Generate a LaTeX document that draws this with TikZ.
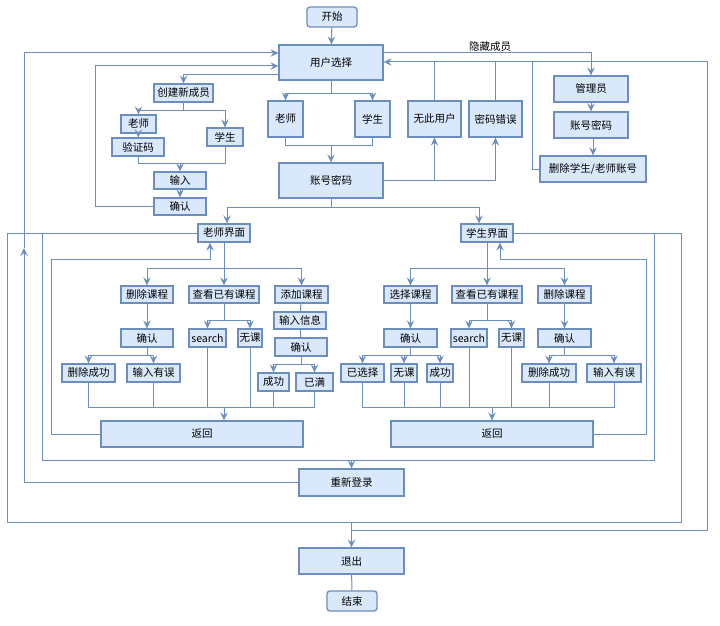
\documentclass[tikz,border=0pt]{standalone}
\usepackage{fontspec}
\setmainfont{Noto Sans CJK SC}
\usetikzlibrary{arrows.meta}
\definecolor{boxfill}{HTML}{DAE8FC}
\definecolor{boxline}{HTML}{6C8EBF}

\begin{document}
\begin{tikzpicture}[x=1pt,y=-1pt,
  sz/.style 2 args={minimum width=#1pt,minimum height=#2pt},
  box/.style={draw=boxline,fill=boxfill,line width=1.3pt,inner sep=0pt,font=\fontsize{10.5}{12}\selectfont},
  endbox/.style={box,rounded corners=3pt},
  lbl/.style={inner sep=0pt,font=\fontsize{10.5}{12}\selectfont},
  line/.style={draw=boxline,line width=1pt},
  arr/.style={line,-{Stealth[length=8pt,width=7.5pt,inset=3pt]}}]
\fill[white] (0,0) rectangle (720,626);
\useasboundingbox (0,0) rectangle (720,626);

\node[endbox,sz={50}{20}] (start) at (332,17) {开始};
\node[box,sz={104}{35}] (sel) at (331,62.5) {用户选择};
\node[box,sz={59}{18}] (new) at (183.5,93) {创建新成员};
\node[box,sz={35}{18}] (nT) at (138.5,124) {老师};
\node[box,sz={36}{18}] (nS) at (225,137) {学生};
\node[box,sz={52}{18}] (vc) at (138,147) {验证码};
\node[box,sz={52}{17}] (in) at (180,180.5) {输入};
\node[box,sz={52}{17}] (ok) at (180,206.5) {确认};
\node[box,sz={35}{36}] (sT) at (285.5,119) {老师};
\node[box,sz={35}{36}] (sS) at (372.5,119) {学生};
\node[box,sz={104}{35}] (acc) at (331,180.5) {账号密码};
\node[box,sz={53}{36}] (nouser) at (434.5,119) {无此用户};
\node[box,sz={53}{36}] (pwerr) at (495.5,119) {密码错误};
\node[box,sz={74}{26}] (adm) at (591,89) {管理员};
\node[box,sz={74}{26}] (aacc) at (591,125) {账号密码};
\node[box,sz={106}{26}] (del) at (593,169) {删除学生/老师账号};
\node[lbl] (hid) at (490,47) {隐藏成员};

\node[box,sz={52}{18}] (tUI) at (224,233) {老师界面};
\node[box,sz={52}{18}] (sUI) at (487,233) {学生界面};

\node[box,sz={52}{17}] (tdel) at (147,294.5) {删除课程};
\node[box,sz={70}{17}] (tview) at (224,294.5) {查看已有课程};
\node[box,sz={53}{17}] (tadd) at (301.5,294.5) {添加课程};
\node[box,sz={52}{18}] (tok1) at (147,338) {确认};
\node[box,sz={37}{18}] (tsearch) at (207.5,338) {search};
\node[box,sz={24}{18}] (tnone) at (250,338) {无课};
\node[box,sz={52}{17}] (tinfo) at (300,320.5) {输入信息};
\node[box,sz={52}{18}] (tok2) at (301,347) {确认};
\node[box,sz={53}{18}] (tdone) at (88.5,373) {删除成功};
\node[box,sz={53}{18}] (terr) at (153.5,373) {输入有误};
\node[box,sz={31}{18}] (tsucc) at (273.5,382) {成功};
\node[box,sz={37}{18}] (tfull) at (314.5,382) {已满};
\node[box,sz={202}{26}] (tback) at (202,434) {返回};

\node[box,sz={53}{17}] (ssel) at (410.5,294.5) {选择课程};
\node[box,sz={70}{17}] (sview) at (487,294.5) {查看已有课程};
\node[box,sz={53}{17}] (sdel) at (564.5,294.5) {删除课程};
\node[box,sz={53}{18}] (sok1) at (410.5,338) {确认};
\node[box,sz={36}{18}] (ssearch) at (469,338) {search};
\node[box,sz={25}{18}] (snone) at (511.5,338) {无课};
\node[box,sz={53}{18}] (sok2) at (564.5,338) {确认};
\node[box,sz={43}{18}] (schosen) at (362.5,373) {已选择};
\node[box,sz={26}{18}] (snone2) at (404,373) {无课};
\node[box,sz={26}{18}] (ssucc) at (440,373) {成功};
\node[box,sz={54}{18}] (sdone) at (549,373) {删除成功};
\node[box,sz={54}{18}] (serr) at (614,373) {输入有误};
\node[box,sz={202}{26}] (sback) at (492,434) {返回};

\node[box,sz={105}{27}] (relog) at (351.5,482.5) {重新登录};
\node[box,sz={105}{26}] (quit) at (351.5,561) {退出};
\node[endbox,sz={50}{20}] (end) at (352,601) {结束};

\draw[arr] (start) -- (sel);
\coordinate (upL) at (24,248);
\draw[arr] (relog.west) -| (upL);
\draw[arr] (upL) |- (sel.west |- 0,53);
\draw[arr] (ok.west) -| (95,66) -- (sel.west |- 0,66);
\draw[arr] (sel.west |- 0,75) -| (new.north);
\draw[line] (new.south) -- ++(0,8) coordinate (nb);
\draw[arr] (nb) -| (nT.north);
\draw[arr] (nb) -| (nS.north);
\draw[arr] (nT) -- (vc);
\draw[line] (vc.south) |- (nS.south |- 0,163) -- (nS.south);
\draw[arr] (in.north |- 0,163) -- (in.north);
\draw[arr] (in) -- (ok);

\draw[line] (sel.south) -- ++(0,13) coordinate (sb);
\draw[arr] (sb) -| (sT.north);
\draw[arr] (sb) -| (sS.north);
\draw[line] (sT.south) |- (sS.south |- 0,145) -- (sS.south);
\draw[arr] (acc.north |- 0,145) -- (acc.north);
\draw[arr] (acc.east) -| (pwerr.south);
\draw[arr] (nouser.south |- acc.east) -- (nouser.south);
\draw[arr] (quit.north |- 0,530) -| (707,62) -- (sel.east |- 0,62);
\draw[line] (nouser.north) -- (nouser.north |- 0,62);
\draw[line] (pwerr.north) -- (pwerr.north |- 0,62);
\draw[line] (del.west) -| (532,62);
\draw[arr] (sel.east |- 0,53) -| (adm.north);
\draw[arr] (adm) -- (aacc);
\draw[arr] (aacc.south -| del.north) -- (del.north);

\draw[line] (acc.south) -- ++(0,9) coordinate (ab);
\draw[arr] (ab) -| ([xshift=3pt]tUI.north);
\draw[arr] (ab) -| ([xshift=-8pt]sUI.north);
\draw[arr] (tUI.west) -| (7,522) -| (quit.north);
\draw[line] (sUI.east) -| (681,522) -- (quit.north |- 0,522);
\draw[arr] (tUI.west -| 42,0) -- (42,460) -| (relog.north);
\draw[line] (sUI.east -| 654,0) -- (654,460) -- (relog.north |- 0,460);
\draw[line] (quit) -- (end);

\draw[line] (tUI.south) -- ++(0,26) coordinate (tb);
\foreach \n in {tdel,tview,tadd} \draw[arr] (tb) -| (\n.north);
\draw[arr] (tdel) -- (tok1);
\draw[line] (tok1.south) -- ++(0,8) coordinate (tb1);
\foreach \n in {tdone,terr} \draw[arr] (tb1) -| (\n.north);
\draw[line] (tview.south) -- ++(0,17) coordinate (tb2);
\foreach \n in {tsearch,tnone} \draw[arr] (tb2) -| (\n.north);
\draw[line] (tadd) -- (tinfo) (tinfo) -- (tok2);
\draw[line] (tok2.south) -- ++(0,8) coordinate (tb3);
\foreach \n in {tsucc,tfull} \draw[arr] (tb3) -| (\n.north);
\draw[line] (tdone.south) |- (tfull.south |- 0,407) -- (tfull.south);
\foreach \n in {terr,tsearch,tnone,tsucc} \draw[line] (\n.south) -- (\n.south |- 0,407);
\draw[arr] (tview.south |- 0,407) -- (tview.south |- tback.north);
\draw[arr] (tback.west) -| (51,259) -| ([xshift=-14pt]tUI.south);

\draw[line] (sUI.south) -- ++(0,26) coordinate (sb0);
\foreach \n in {ssel,sview,sdel} \draw[arr] (sb0) -| (\n.north);
\draw[arr] (ssel) -- (sok1);
\draw[line] (sok1.south) -- ++(0,8) coordinate (sb1);
\foreach \n in {schosen,snone2,ssucc} \draw[arr] (sb1) -| (\n.north);
\draw[line] (sview.south) -- ++(0,17) coordinate (sb2);
\foreach \n in {ssearch,snone} \draw[arr] (sb2) -| (\n.north);
\draw[arr] (sdel) -- (sok2);
\draw[line] (sok2.south) -- ++(0,8) coordinate (sb3);
\foreach \n in {sdone,serr} \draw[arr] (sb3) -| (\n.north);
\draw[line] (schosen.south) |- (serr.south |- 0,407) -- (serr.south);
\foreach \n in {snone2,ssucc,ssearch,snone,sdone} \draw[line] (\n.south) -- (\n.south |- 0,407);
\draw[arr] (sback.north |- 0,407) -- (sback.north);
\draw[arr] (sback.east) -| (646,259) -| ([xshift=13pt]sUI.south);

\end{tikzpicture}
\end{document}
